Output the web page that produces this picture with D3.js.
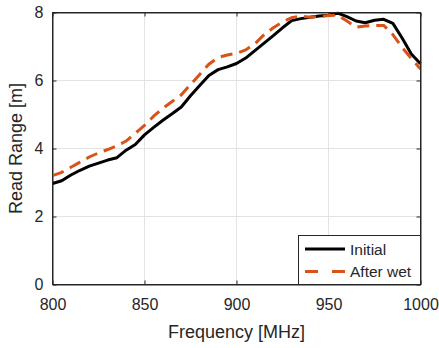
<!DOCTYPE html>
<html>
<head>
<meta charset="utf-8">
<script src="https://cdn.jsdelivr.net/npm/d3@7"></script>
<style>
  body { margin: 0; background: #fff; }
  text { font-family: "Liberation Sans", Arial, sans-serif; fill: #262626; }
</style>
</head>
<body>
<svg id="chart" width="439" height="348"></svg>
<script>
// frequency in MHz, read range in m
var freqs = [800, 805, 810, 815, 820, 825, 830, 835, 840, 845, 850, 855, 860, 865, 870,
  875, 880, 885, 890, 895, 900, 905, 910, 915, 920, 925, 930, 935, 940, 945, 950,
  955, 960, 965, 970, 975, 980, 985, 990, 995, 1000]
var initial = [2.97, 3.05, 3.22, 3.36, 3.48, 3.57, 3.66, 3.73, 3.95, 4.12, 4.40, 4.62, 4.83,
  5.02, 5.22, 5.55, 5.85, 6.15, 6.32, 6.40, 6.50, 6.66, 6.88, 7.10, 7.32, 7.55, 7.76,
  7.82, 7.86, 7.90, 7.92, 7.98, 7.88, 7.75, 7.70, 7.77, 7.80, 7.68, 7.25, 6.78, 6.49]
var afterWet = [3.20, 3.30, 3.45, 3.60, 3.75, 3.87, 3.97, 4.08, 4.22, 4.45, 4.68, 4.95, 5.18,
  5.38, 5.58, 5.88, 6.18, 6.48, 6.68, 6.75, 6.80, 6.90, 7.08, 7.35, 7.55, 7.72, 7.85,
  7.90, 7.86, 7.88, 7.91, 7.92, 7.75, 7.57, 7.60, 7.62, 7.62, 7.35, 6.97, 6.65, 6.34]
var xTicks = [800, 850, 900, 950, 1000]
var yTicks = [0, 2, 4, 6, 8]
var seriesNames = ['Initial', 'After wet']

;(function() {
  var left = 52.5, right = 420.5, plotTop = 12.5, bottom = 284.5
  var axisColor = '#262626'

  var svg = d3.select('#chart')

  var x = d3.scaleLinear().domain([800, 1000]).range([left, right])
  var y = d3.scaleLinear().domain([0, 8]).range([bottom, plotTop])

  // grid
  svg.append('g').selectAll('line').data(xTicks.slice(1, -1)).enter().append('line')
    .attr('x1', d => x(d)).attr('x2', d => x(d))
    .attr('y1', plotTop).attr('y2', bottom)
    .attr('stroke', '#e3e3e3').attr('stroke-width', 1)
  svg.append('g').selectAll('line').data(yTicks.slice(1, -1)).enter().append('line')
    .attr('x1', left).attr('x2', right)
    .attr('y1', d => y(d)).attr('y2', d => y(d))
    .attr('stroke', '#e3e3e3').attr('stroke-width', 1)

  // axes
  var xAxis = d3.axisBottom(x).tickValues(xTicks).tickFormat(d3.format('d'))
    .tickSizeInner(-4).tickSizeOuter(0).tickPadding(14)
  var yAxis = d3.axisLeft(y).tickValues(yTicks).tickSizeInner(-4).tickSizeOuter(0).tickPadding(9)
  svg.append('g').attr('transform', 'translate(0,' + bottom + ')').call(xAxis)
  svg.append('g').attr('transform', 'translate(' + left + ',0)').call(yAxis)
  svg.append('g').attr('transform', 'translate(0,' + plotTop + ')')
    .call(d3.axisTop(x).tickValues(xTicks).tickSizeInner(-4).tickSizeOuter(0).tickFormat(''))
  svg.append('g').attr('transform', 'translate(' + right + ',0)')
    .call(d3.axisRight(y).tickValues(yTicks).tickSizeInner(-4).tickSizeOuter(0).tickFormat(''))
  svg.selectAll('.domain, .tick line').attr('stroke', axisColor)
  svg.selectAll('.tick text').attr('font-size', 16).attr('fill', axisColor)
    .style('font-family', '"Liberation Sans", Arial, sans-serif')

  // lines
  var line = d3.line().x((d, i) => x(freqs[i])).y(d => y(d))
  var plot = svg.append('g')
  plot.append('path').datum(initial).attr('d', line)
    .attr('fill', 'none').attr('stroke', '#000').attr('stroke-width', 3)
    .attr('stroke-linejoin', 'round')
  plot.append('path').datum(afterWet).attr('d', line)
    .attr('fill', 'none').attr('stroke', '#D95319').attr('stroke-width', 3)
    .attr('stroke-dasharray', '12,7')

  // box on top of the lines
  svg.append('rect').attr('x', left).attr('y', plotTop)
    .attr('width', right - left).attr('height', bottom - plotTop)
    .attr('fill', 'none').attr('stroke', axisColor).attr('stroke-width', 1)

  // axis titles
  svg.append('text').attr('x', (left + right) / 2).attr('y', 338)
    .attr('text-anchor', 'middle').attr('font-size', 18).text('Frequency [MHz]')
  svg.append('text').attr('transform', 'translate(22,' + ((plotTop + bottom) / 2) + ') rotate(-90)')
    .attr('text-anchor', 'middle').attr('font-size', 18).text('Read Range [m]')

  // legend
  var legend = svg.append('g')
  legend.append('rect').attr('x', 298.5).attr('y', 235.5).attr('width', 122).attr('height', 49)
    .attr('fill', '#fff').attr('stroke', axisColor).attr('stroke-width', 1)
  var rows = legend.selectAll('g.row').data(seriesNames).enter().append('g')
    .attr('transform', (d, i) => 'translate(0,' + (249 + i * 22.5) + ')')
  rows.append('line').attr('x1', 305).attr('x2', 345).attr('y1', 0).attr('y2', 0)
    .attr('stroke', (d, i) => i ? '#D95319' : '#000').attr('stroke-width', 3)
    .attr('stroke-dasharray', (d, i) => i ? '13,14' : null)
  rows.append('text').attr('x', 350).attr('y', 5.5).attr('font-size', 15.5).text(d => d)
})()
</script>
</body>
</html>
